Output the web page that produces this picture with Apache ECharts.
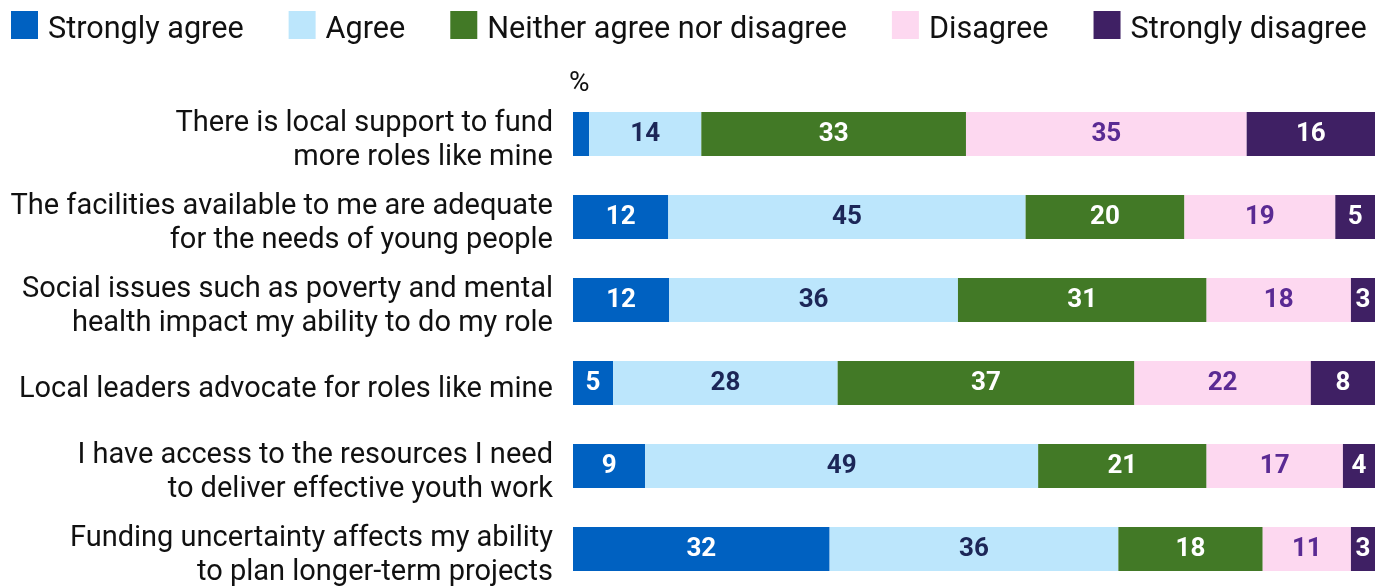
<!DOCTYPE html>
<html>
<head>
<meta charset="utf-8">
<script src="https://cdn.jsdelivr.net/npm/echarts@6/dist/echarts.min.js"></script>
<style>
  html, body { margin: 0; padding: 0; background: #fff; }
  #main { width: 1385px; height: 586px; }
</style>
</head>
<body>
<div id="main"></div>
<script>
// 数据
var categories = [
    'There is local support to fund\nmore roles like mine',
    'The facilities available to me are adequate\nfor the needs of young people',
    'Social issues such as poverty and mental\nhealth impact my ability to do my role',
    'Local leaders advocate for roles like mine',
    'I have access to the resources I need\nto deliver effective youth work',
    'Funding uncertainty affects my ability\nto plan longer-term projects'
];
var strongAgree    = [2, 12, 12, 5, 9, 32];
var agree          = [14, 45, 36, 28, 49, 36];
var neither        = [33, 20, 31, 37, 21, 18];
var disagree       = [35, 19, 18, 22, 17, 11];
var strongDisagree = [16, 5, 3, 8, 4, 3];

var seriesNames = ['Strongly agree', 'Agree', 'Neither agree nor disagree', 'Disagree', 'Strongly disagree'];
var seriesValues = [strongAgree, agree, neither, disagree, strongDisagree];
var barColors = ['#0061c1', '#bce6fc', '#427926', '#fdd8f0', '#3f2064'];
var labelColors = ['#ffffff', '#1c2657', '#ffffff', '#5a2a93', '#ffffff'];

var fontName = 'Roboto';

// 每行合计，用来把每条拉满100%
var rowTotals = categories.map(function (c, i) {
    var t = 0;
    seriesValues.forEach(function (arr) { t += arr[i]; });
    return t;
});

var series = seriesNames.map(function (name, k) {
    return {
        name: name,
        type: 'bar',
        stack: 'total',
        barWidth: 44,
        itemStyle: { color: barColors[k] },
        label: {
            show: true,
            position: 'inside',
            color: labelColors[k],
            fontFamily: fontName,
            fontWeight: 'bold',
            fontSize: 26,
            formatter: function (p) {
                return p.data.raw >= 3 ? String(p.data.raw) : '';
            }
        },
        data: seriesValues[k].map(function (v, i) {
            return { value: v / rowTotals[i] * 100, raw: v };
        })
    };
});

var myChart = echarts.init(document.getElementById('main'));
myChart.setOption({
    animation: false,
    legend: {
        left: 11,
        top: 5,
        padding: 0,
        itemWidth: 27,
        itemHeight: 28,
        itemGap: 45,
        icon: 'rect',
        formatter: function (name) {
            return '{s| }\n' + name;
        },
        textStyle: {
            fontFamily: fontName, fontSize: 30.6, lineHeight: 30, color: '#111',
            padding: [0, 0, 0, 5],
            rich: { s: { lineHeight: 10, fontSize: 2 } }
        },
        data: seriesNames
    },
    graphic: [{
        type: 'text',
        left: 569,
        top: 70,
        style: { text: '%', fontFamily: fontName, fontSize: 28, fill: '#111' }
    }],
    grid: {
        left: 573,
        right: 10,
        top: 92.5,
        height: 498,
        outerBoundsMode: 'none'
    },
    xAxis: {
        type: 'value',
        min: 0,
        max: 100,
        show: false
    },
    yAxis: {
        type: 'category',
        inverse: true,
        data: categories,
        axisLine: { show: false },
        axisTick: { show: false },
        axisLabel: {
            margin: 20,
            fontFamily: fontName,
            fontSize: 29,
            lineHeight: 34,
            color: '#111',
            align: 'right',
            // 顶部加一行空白，文字整体下移一点
            formatter: function (v) {
                return '{s| }\n' + v;
            },
            rich: {
                s: { lineHeight: 14, fontSize: 2 }
            }
        }
    },
    series: series
});
</script>
</body>
</html>
